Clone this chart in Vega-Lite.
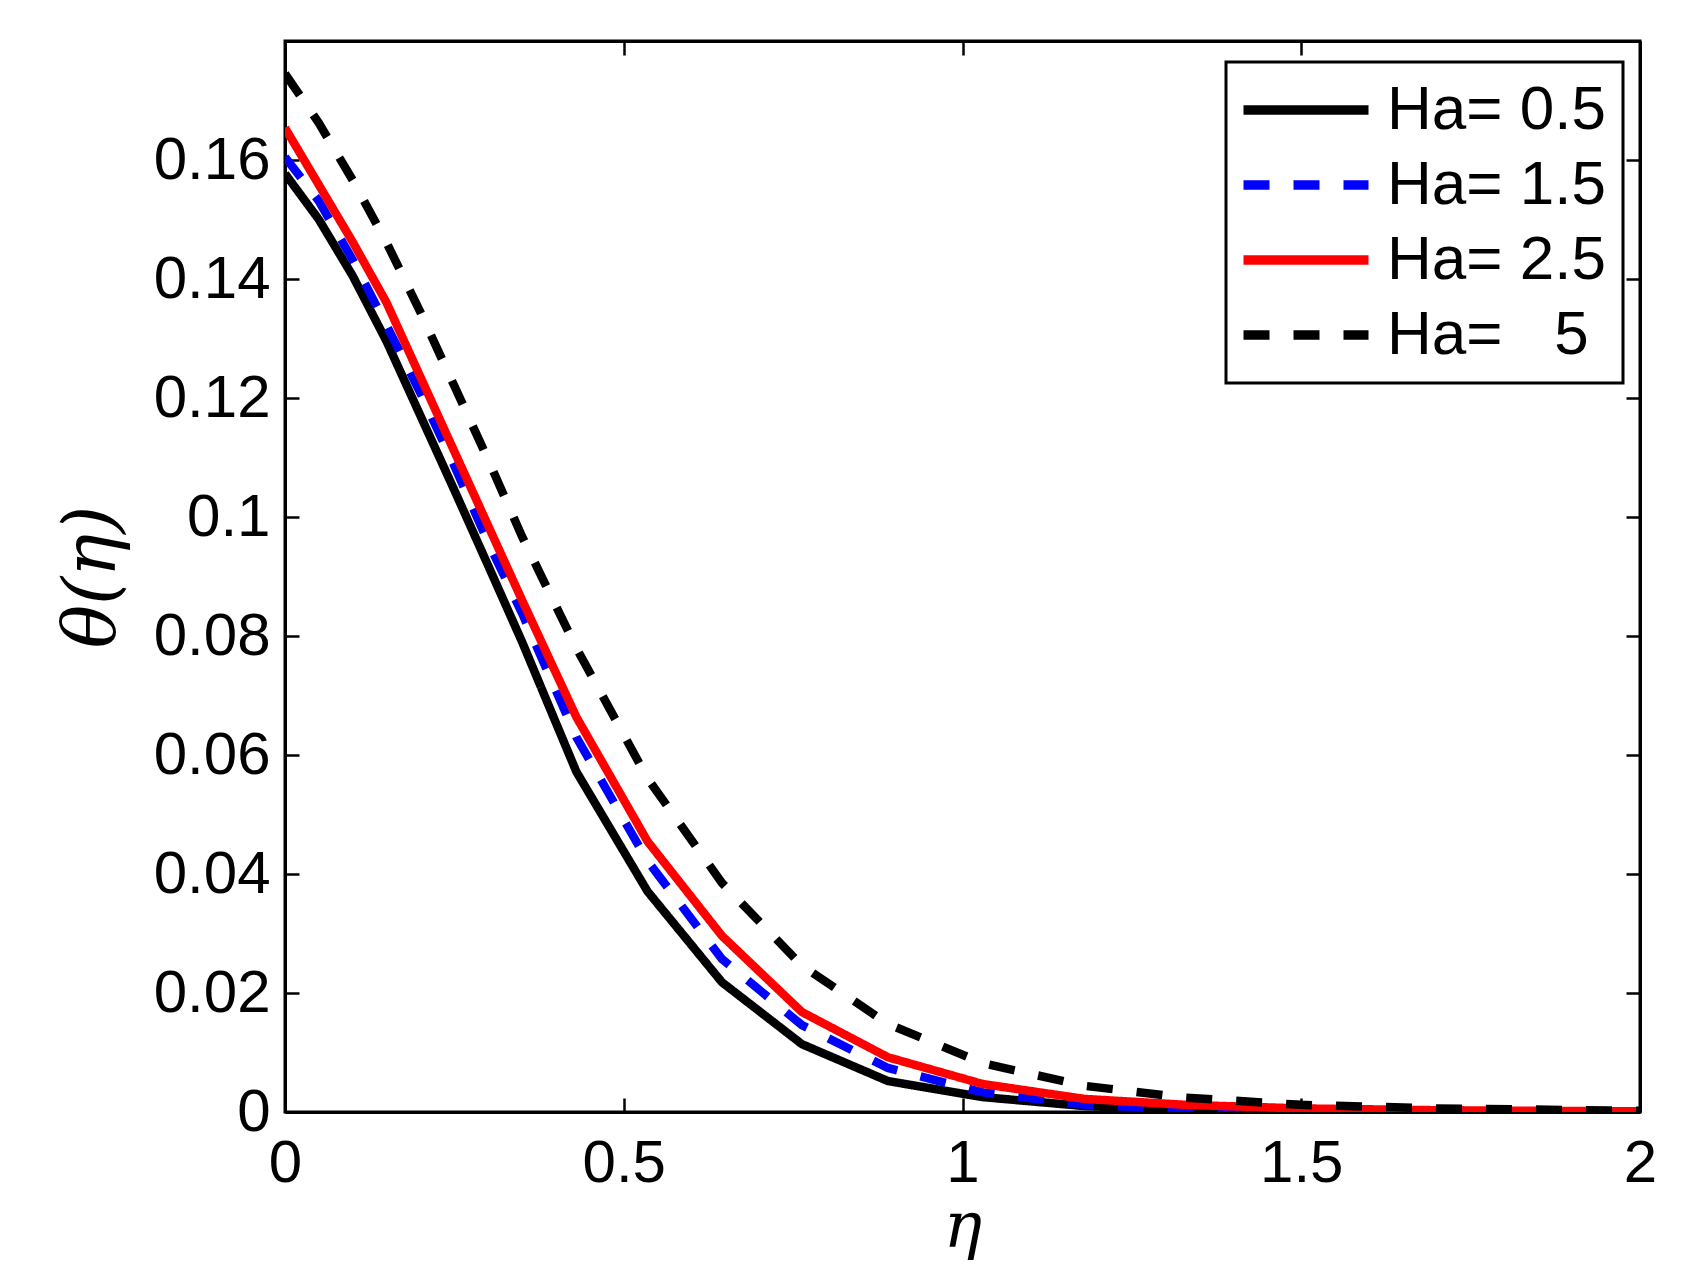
{
  "$schema": "https://vega.github.io/schema/vega-lite/v6.json",
  "description": "Temperature profile theta(eta) for several Hartmann numbers",
  "width": 1355,
  "height": 1071,
  "autosize": {"type": "none"},
  "padding": {"left": 285, "top": 41, "right": 62, "bottom": 172},
  "background": "white",
  "data": {
    "values": [
      {"eta": 0, "theta": 0.1577, "Ha": "Ha= 0.5"},
      {"eta": 0.05, "theta": 0.1500, "Ha": "Ha= 0.5"},
      {"eta": 0.1, "theta": 0.1405, "Ha": "Ha= 0.5"},
      {"eta": 0.15, "theta": 0.1295, "Ha": "Ha= 0.5"},
      {"eta": 0.2, "theta": 0.1170, "Ha": "Ha= 0.5"},
      {"eta": 0.25, "theta": 0.1045, "Ha": "Ha= 0.5"},
      {"eta": 0.3, "theta": 0.0918, "Ha": "Ha= 0.5"},
      {"eta": 0.35, "theta": 0.0790, "Ha": "Ha= 0.5"},
      {"eta": 0.43, "theta": 0.0572, "Ha": "Ha= 0.5"},
      {"eta": 0.535, "theta": 0.0371, "Ha": "Ha= 0.5"},
      {"eta": 0.645, "theta": 0.0218, "Ha": "Ha= 0.5"},
      {"eta": 0.763, "theta": 0.0114, "Ha": "Ha= 0.5"},
      {"eta": 0.89, "theta": 0.0052, "Ha": "Ha= 0.5"},
      {"eta": 1.03, "theta": 0.0025, "Ha": "Ha= 0.5"},
      {"eta": 1.18, "theta": 0.0010, "Ha": "Ha= 0.5"},
      {"eta": 1.33, "theta": 0.0004, "Ha": "Ha= 0.5"},
      {"eta": 1.5, "theta": 0.0002, "Ha": "Ha= 0.5"},
      {"eta": 1.7, "theta": 0.0001, "Ha": "Ha= 0.5"},
      {"eta": 2.0, "theta": 0.0, "Ha": "Ha= 0.5"},

      {"eta": 0, "theta": 0.1605, "Ha": "Ha= 1.5"},
      {"eta": 0.05, "theta": 0.1531, "Ha": "Ha= 1.5"},
      {"eta": 0.1, "theta": 0.1432, "Ha": "Ha= 1.5"},
      {"eta": 0.15, "theta": 0.1322, "Ha": "Ha= 1.5"},
      {"eta": 0.2, "theta": 0.1208, "Ha": "Ha= 1.5"},
      {"eta": 0.25, "theta": 0.1086, "Ha": "Ha= 1.5"},
      {"eta": 0.3, "theta": 0.0957, "Ha": "Ha= 1.5"},
      {"eta": 0.35, "theta": 0.0838, "Ha": "Ha= 1.5"},
      {"eta": 0.43, "theta": 0.0630, "Ha": "Ha= 1.5"},
      {"eta": 0.535, "theta": 0.0422, "Ha": "Ha= 1.5"},
      {"eta": 0.645, "theta": 0.0257, "Ha": "Ha= 1.5"},
      {"eta": 0.763, "theta": 0.0146, "Ha": "Ha= 1.5"},
      {"eta": 0.89, "theta": 0.0074, "Ha": "Ha= 1.5"},
      {"eta": 1.03, "theta": 0.0033, "Ha": "Ha= 1.5"},
      {"eta": 1.18, "theta": 0.0012, "Ha": "Ha= 1.5"},
      {"eta": 1.33, "theta": 0.0005, "Ha": "Ha= 1.5"},
      {"eta": 1.5, "theta": 0.0002, "Ha": "Ha= 1.5"},
      {"eta": 1.7, "theta": 0.0001, "Ha": "Ha= 1.5"},
      {"eta": 2.0, "theta": 0.0, "Ha": "Ha= 1.5"},

      {"eta": 0, "theta": 0.1654, "Ha": "Ha= 2.5"},
      {"eta": 0.05, "theta": 0.1558, "Ha": "Ha= 2.5"},
      {"eta": 0.1, "theta": 0.1462, "Ha": "Ha= 2.5"},
      {"eta": 0.15, "theta": 0.1360, "Ha": "Ha= 2.5"},
      {"eta": 0.2, "theta": 0.1235, "Ha": "Ha= 2.5"},
      {"eta": 0.25, "theta": 0.1110, "Ha": "Ha= 2.5"},
      {"eta": 0.3, "theta": 0.0985, "Ha": "Ha= 2.5"},
      {"eta": 0.35, "theta": 0.0860, "Ha": "Ha= 2.5"},
      {"eta": 0.43, "theta": 0.0664, "Ha": "Ha= 2.5"},
      {"eta": 0.535, "theta": 0.0455, "Ha": "Ha= 2.5"},
      {"eta": 0.645, "theta": 0.0296, "Ha": "Ha= 2.5"},
      {"eta": 0.763, "theta": 0.0168, "Ha": "Ha= 2.5"},
      {"eta": 0.89, "theta": 0.0092, "Ha": "Ha= 2.5"},
      {"eta": 1.03, "theta": 0.0047, "Ha": "Ha= 2.5"},
      {"eta": 1.18, "theta": 0.0022, "Ha": "Ha= 2.5"},
      {"eta": 1.33, "theta": 0.0012, "Ha": "Ha= 2.5"},
      {"eta": 1.5, "theta": 0.0006, "Ha": "Ha= 2.5"},
      {"eta": 1.7, "theta": 0.0003, "Ha": "Ha= 2.5"},
      {"eta": 2.0, "theta": 0.0001, "Ha": "Ha= 2.5"},

      {"eta": 0, "theta": 0.1745, "Ha": "Ha=\u00a0\u00a0\u00a05"},
      {"eta": 0.05, "theta": 0.1662, "Ha": "Ha=\u00a0\u00a0\u00a05"},
      {"eta": 0.1, "theta": 0.1566, "Ha": "Ha=\u00a0\u00a0\u00a05"},
      {"eta": 0.15, "theta": 0.1461, "Ha": "Ha=\u00a0\u00a0\u00a05"},
      {"eta": 0.2, "theta": 0.1344, "Ha": "Ha=\u00a0\u00a0\u00a05"},
      {"eta": 0.25, "theta": 0.1220, "Ha": "Ha=\u00a0\u00a0\u00a05"},
      {"eta": 0.3, "theta": 0.1096, "Ha": "Ha=\u00a0\u00a0\u00a05"},
      {"eta": 0.35, "theta": 0.0967, "Ha": "Ha=\u00a0\u00a0\u00a05"},
      {"eta": 0.43, "theta": 0.0780, "Ha": "Ha=\u00a0\u00a0\u00a05"},
      {"eta": 0.535, "theta": 0.0561, "Ha": "Ha=\u00a0\u00a0\u00a05"},
      {"eta": 0.645, "theta": 0.0385, "Ha": "Ha=\u00a0\u00a0\u00a05"},
      {"eta": 0.763, "theta": 0.0246, "Ha": "Ha=\u00a0\u00a0\u00a05"},
      {"eta": 0.89, "theta": 0.0148, "Ha": "Ha=\u00a0\u00a0\u00a05"},
      {"eta": 1.03, "theta": 0.0082, "Ha": "Ha=\u00a0\u00a0\u00a05"},
      {"eta": 1.18, "theta": 0.0044, "Ha": "Ha=\u00a0\u00a0\u00a05"},
      {"eta": 1.33, "theta": 0.0024, "Ha": "Ha=\u00a0\u00a0\u00a05"},
      {"eta": 1.5, "theta": 0.0012, "Ha": "Ha=\u00a0\u00a0\u00a05"},
      {"eta": 1.7, "theta": 0.0006, "Ha": "Ha=\u00a0\u00a0\u00a05"},
      {"eta": 2.0, "theta": 0.0002, "Ha": "Ha=\u00a0\u00a0\u00a05"}
    ]
  },
  "layer": [
    {
      "mark": {"type": "line", "strokeWidth": 8.5, "clip": true, "strokeCap": "butt", "strokeJoin": "miter"},
      "encoding": {
        "x": {
          "field": "eta",
          "type": "quantitative",
          "scale": {"domain": [0, 2], "nice": false, "zero": false},
          "axis": {
            "orient": "bottom",
            "title": "η",
            "values": [0, 0.5, 1, 1.5, 2],
            "format": "~g",
            "labelPadding": 36,
            "titlePadding": 2
          }
        },
        "y": {
          "field": "theta",
          "type": "quantitative",
          "scale": {"domain": [0, 0.18], "nice": false, "zero": false},
          "axis": {
            "orient": "left",
            "title": "θ(η)",
            "titleFontSize": 72,
            "values": [0, 0.02, 0.04, 0.06, 0.08, 0.1, 0.12, 0.14, 0.16],
            "format": "~g",
            "labelPadding": 29,
            "titlePadding": 24
          }
        },
        "color": {
          "field": "Ha",
          "type": "nominal",
          "scale": {
            "domain": ["Ha= 0.5", "Ha= 1.5", "Ha= 2.5", "Ha=\u00a0\u00a0\u00a05"],
            "range": ["#000000", "#0000ff", "#ff0000", "#000000"]
          },
          "legend": {"title": null}
        },
        "strokeDash": {
          "field": "Ha",
          "type": "nominal",
          "scale": {
            "domain": ["Ha= 0.5", "Ha= 1.5", "Ha= 2.5", "Ha=\u00a0\u00a0\u00a05"],
            "range": [[1, 0], [26, 24], [1, 0], [26, 24]]
          },
          "legend": {"title": null}
        }
      }
    },
    {
      "mark": {"type": "line", "opacity": 0},
      "encoding": {
        "x": {
          "field": "eta",
          "type": "quantitative",
          "axis": {"orient": "top", "title": null, "labels": false, "values": [0, 0.5, 1, 1.5, 2]}
        },
        "y": {
          "field": "theta",
          "type": "quantitative",
          "axis": {"orient": "right", "title": null, "labels": false, "values": [0, 0.02, 0.04, 0.06, 0.08, 0.1, 0.12, 0.14, 0.16]}
        }
      }
    }
  ],
  "resolve": {"axis": {"x": "independent", "y": "independent"}},
  "config": {
    "view": {"stroke": "#000000", "strokeWidth": 3},
    "axis": {
      "grid": false,
      "domainColor": "#000000",
      "domainWidth": 3,
      "tickColor": "#000000",
      "tickWidth": 2.5,
      "tickSize": -14,
      "labelFont": "Liberation Sans",
      "labelFontSize": 60,
      "labelColor": "#000000",
      "labelFlush": false,
      "labelOverlap": false,
      "titleFont": "DejaVu Serif",
      "titleFontStyle": "italic",
      "titleFontWeight": "normal",
      "titleFontSize": 64,
      "titleColor": "#000000"
    },
    "legend": {
      "orient": "none",
      "legendX": 941,
      "legendY": 21,
      "strokeColor": "#000000",
      "strokeWidth": 3,
      "fillColor": "#ffffff",
      "padding": 17,
      "symbolType": "M-2.44,0H7.56",
      "symbolSize": 625,
      "symbolStrokeWidth": 9.5,
      "labelFont": "Liberation Sans",
      "labelFontSize": 62,
      "labelColor": "#000000",
      "labelOffset": 82,
      "labelLimit": 500,
      "rowPadding": 13
    }
  }
}
